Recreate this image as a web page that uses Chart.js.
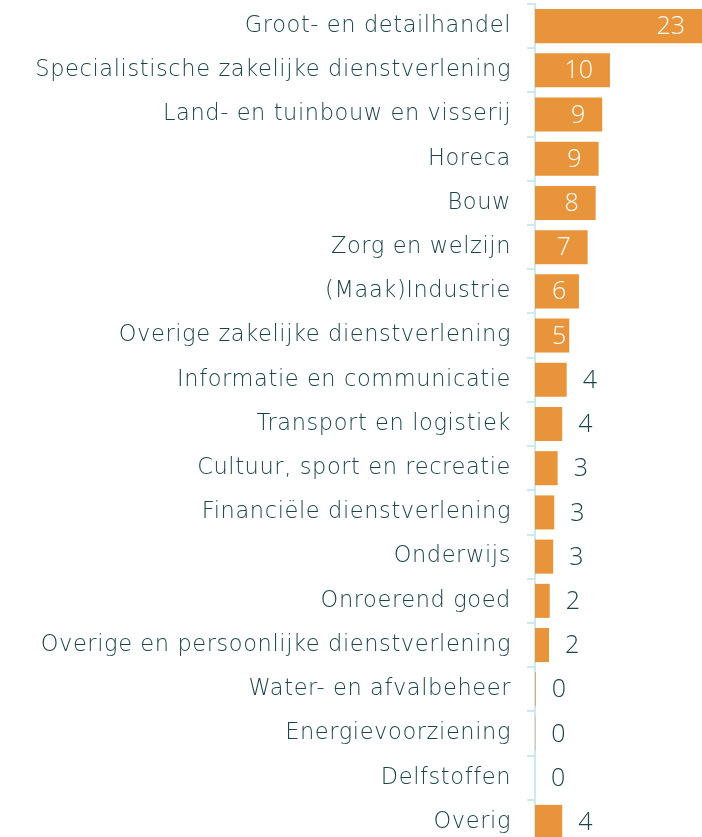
<!DOCTYPE html>
<html>
<head>
<meta charset="utf-8">
<script src="https://cdn.jsdelivr.net/npm/chart.js@4.4.1/dist/chart.umd.min.js"></script>
<style>
  html, body { margin: 0; padding: 0; background: #ffffff; overflow: hidden; }
  #wrap { width: 702px; height: 837px; overflow: hidden; position: relative; }
  canvas { display: block; }
</style>
</head>
<body>
<div id="wrap"><canvas id="c" width="702" height="844"></canvas></div>
<script>
const categories = [
  "Groot- en detailhandel",
  "Specialistische zakelijke dienstverlening",
  "Land- en tuinbouw en visserij",
  "Horeca",
  "Bouw",
  "Zorg en welzijn",
  "(Maak)Industrie",
  "Overige zakelijke dienstverlening",
  "Informatie en communicatie",
  "Transport en logistiek",
  "Cultuur, sport en recreatie",
  "Financiële dienstverlening",
  "Onderwijs",
  "Onroerend goed",
  "Overige en persoonlijke dienstverlening",
  "Water- en afvalbeheer",
  "Energievoorziening",
  "Delfstoffen",
  "Overig"
];
const values = [23.15, 10.39, 9.32, 8.82, 8.41, 7.30, 6.09, 4.75, 4.39, 3.78, 3.14, 2.67, 2.53, 2.04, 1.94, 0.10, 0.05, 0, 3.78];

const BAR = '#e8943b';
const TEXT = '#1b444b';
const AXIS = '#cde9ee';
const LABEL_FONT = "'DejaVu Sans', sans-serif";
const NUM_FONT = "'Open Sans', sans-serif";

const spacingPlugin = {
  id: 'spacing',
  beforeDraw(chart) { chart.ctx.letterSpacing = '0.6px'; }
};

const labelPlugin = {
  id: 'barLabels',
  afterDatasetsDraw(chart) {
    const ctx = chart.ctx;
    const meta = chart.getDatasetMeta(0);
    ctx.save();
    ctx.letterSpacing = '0px';
    ctx.font = "300 25px " + NUM_FONT;
    ctx.textBaseline = 'middle';
    ctx.textAlign = 'left';
    meta.data.forEach((bar, i) => {
      const v = values[i];
      const txt = String(Math.round(v));
      const w = ctx.measureText(txt).width;
      const p = bar.getProps(['x', 'y', 'base'], true);
      let left;
      if (Math.round(v) >= 5) {
        left = Math.max(p.base + 17, p.x - 17 - w);
        ctx.fillStyle = '#ffffff';
      } else {
        left = p.x + 16;
        ctx.fillStyle = TEXT;
      }
      ctx.fillText(txt, left, p.y + 1);
    });
    ctx.restore();
  }
};

new Chart(document.getElementById('c'), {
  type: 'bar',
  data: {
    labels: categories,
    datasets: [{
      data: values,
      backgroundColor: BAR,
      borderWidth: 0,
      barPercentage: 0.77,
      categoryPercentage: 1.0
    }]
  },
  options: {
    indexAxis: 'y',
    responsive: false,
    animation: false,
    layout: { padding: { top: 4, bottom: 0, left: 0, right: 0 } },
    plugins: { legend: { display: false }, tooltip: { enabled: false } },
    scales: {
      x: { display: false, min: 0, max: 23.15 },
      y: {
        afterFit(scale) {
          scale.width = 535;
          scale.paddingTop = 0;
          scale.paddingBottom = 0;
        },
        grid: { drawOnChartArea: false, color: AXIS, lineWidth: 2, tickLength: 8, offset: true },
        border: { display: true, color: AXIS, width: 2 },
        ticks: { color: TEXT, padding: 16, font: { family: LABEL_FONT, size: 22.5, weight: '200' } }
      }
    }
  },
  plugins: [spacingPlugin, labelPlugin]
});
</script>
</body>
</html>
